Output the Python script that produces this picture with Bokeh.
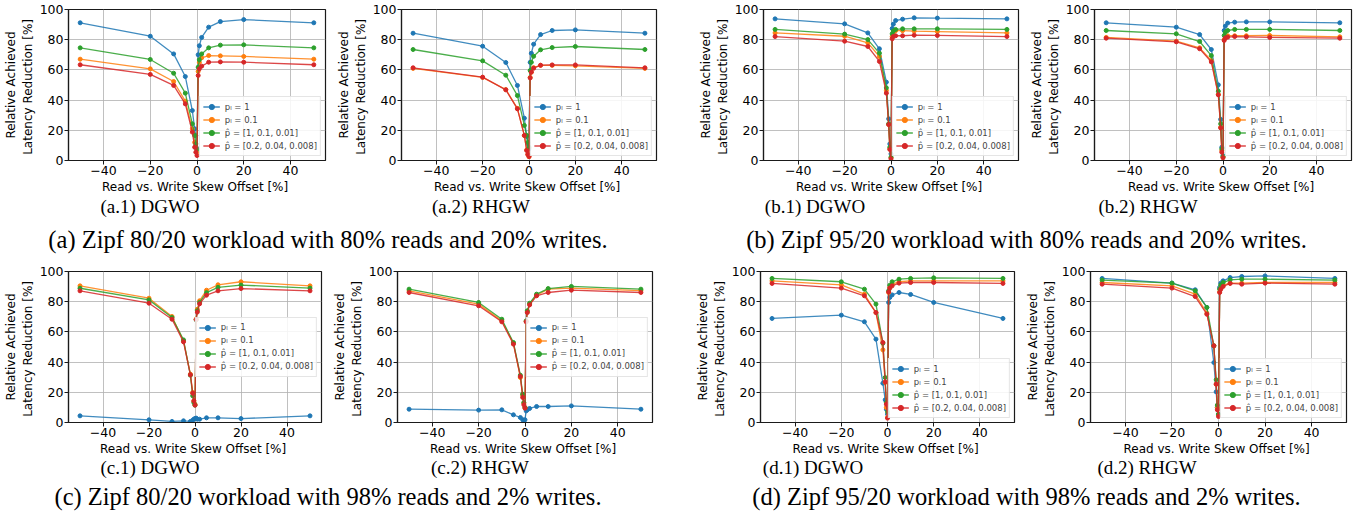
from bokeh.plotting import figure
from bokeh.models import FixedTicker, Legend, LegendItem, Div, Spacer, Range1d
from bokeh.layouts import row, column
from bokeh.embed import file_html
from bokeh.resources import INLINE

offsets = [-50, -20, -10, -5, -2, -1, -0.5, 0, 0.5, 1, 2, 5, 10, 20, 50]
labels = ["p\u2097 = 1", "p\u2097 = 0.1", "p\u0302 = [1, 0.1, 0.01]", "p\u0302 = [0.2, 0.04, 0.008]"]
colors = ["#1f77b4", "#ff7f0e", "#2ca02c", "#d62728"]
x_lim = (-55, 55)
y_lim = (0, 100)
x_ticks = [-40, -20, 0, 20, 40]
x_tick_labels = ["\u221240", "\u221220", "0", "20", "40"]
y_ticks = [0, 20, 40, 60, 80, 100]

# (a.1) DGWO
a1_p1 = [91.2, 82.3, 70.6, 55.6, 33.1, 21.0, 16.5, 8.0, 70.0, 76.0, 81.5, 88.3, 92.0, 93.3, 91.2]
a1_p01 = [67.1, 60.7, 52.3, 39.3, 21.0, 12.0, 8.8, 5.5, 59.0, 65.0, 68.0, 69.5, 69.3, 68.9, 67.1]
a1_h1 = [74.6, 66.9, 57.8, 44.6, 24.3, 16.6, 11.0, 7.3, 61.8, 66.7, 70.6, 74.6, 76.4, 76.6, 74.6]
a1_h2 = [63.4, 57.0, 49.7, 37.5, 18.8, 8.8, 5.5, 3.3, 56.3, 60.7, 62.5, 65.1, 65.3, 65.1, 63.4]
# (a.2) RHGW
a2_p1 = [84.3, 75.7, 64.9, 49.7, 28.0, 15.9, 11.0, 7.7, 65.0, 71.0, 77.0, 83.4, 86.1, 86.5, 84.3]
a2_p01 = [61.0, 55.0, 47.0, 34.5, 16.5, 7.0, 4.0, 2.5, 55.0, 58.5, 61.5, 63.0, 63.0, 62.7, 61.0]
a2_h1 = [73.5, 66.0, 56.5, 43.0, 23.2, 16.6, 12.0, 8.8, 59.6, 65.0, 69.0, 73.3, 74.8, 75.5, 73.5]
a2_h2 = [61.4, 55.2, 46.8, 34.2, 16.6, 6.6, 4.0, 2.6, 54.7, 58.5, 61.1, 63.1, 63.3, 63.3, 61.4]
# (b.1) DGWO
b1_p1 = [93.8, 90.5, 84.5, 74.0, 51.9, 27.6, 11.0, 4.4, 87.4, 90.3, 92.7, 93.6, 94.5, 94.3, 93.8]
b1_p01 = [84.5, 82.3, 77.9, 68.9, 46.4, 23.8, 7.7, 1.8, 82.0, 85.0, 86.0, 86.0, 85.7, 85.4, 84.5]
b1_h1 = [86.8, 83.7, 80.1, 71.1, 48.1, 24.3, 8.8, 2.2, 83.9, 85.7, 86.8, 87.2, 87.2, 87.2, 86.8]
b1_h2 = [82.1, 79.0, 75.5, 65.6, 44.6, 23.8, 7.3, 1.1, 80.6, 82.1, 82.6, 82.6, 83.0, 82.8, 82.1]
# (b.2) RHGW
b2_p1 = [91.2, 88.3, 83.4, 73.5, 50.1, 27.2, 8.8, 3.3, 86.1, 89.0, 91.0, 91.6, 91.8, 91.8, 91.2]
b2_p01 = [81.5, 79.0, 74.6, 66.2, 43.7, 22.0, 6.6, 2.2, 80.1, 82.1, 82.6, 82.6, 82.6, 82.8, 81.9]
b2_h1 = [86.1, 83.9, 78.8, 69.5, 45.9, 24.3, 7.7, 2.6, 82.8, 85.0, 86.1, 86.8, 86.8, 86.8, 86.1]
b2_h2 = [81.0, 78.6, 74.0, 65.3, 43.5, 21.6, 5.5, 1.8, 79.5, 81.2, 81.7, 82.1, 81.9, 81.5, 81.0]
# (c.1) DGWO
c1_p1 = [4.4, 1.8, 0.7, 1.1, 0.7, 1.5, 2.2, 2.6, 2.9, 2.2, 2.2, 3.1, 3.1, 2.6, 4.4]
c1_p01 = [90.5, 82.3, 70.2, 54.0, 32.0, 19.9, 14.3, 12.1, 68.5, 75.0, 80.6, 87.6, 91.2, 93.2, 90.5]
c1_h1 = [88.9, 81.2, 69.5, 54.7, 31.3, 17.7, 13.2, 11.5, 68.0, 74.0, 79.5, 86.0, 89.5, 91.0, 89.0]
c1_h2 = [87.2, 79.0, 68.4, 53.4, 31.6, 19.4, 14.3, 11.5, 68.2, 73.1, 78.6, 84.3, 87.2, 88.7, 87.2]
# (c.2) RHGW
c2_p1 = [8.8, 8.2, 8.4, 5.1, 3.3, 1.8, 1.5, 1.8, 7.7, 8.4, 9.3, 10.6, 10.6, 11.0, 8.8]
c2_p01 = [87.2, 78.4, 67.3, 52.5, 29.8, 18.1, 12.8, 9.9, 66.9, 73.3, 78.4, 84.3, 88.3, 89.0, 87.4]
c2_h1 = [88.3, 79.5, 68.4, 53.0, 31.3, 18.8, 13.2, 9.9, 67.3, 74.0, 79.0, 85.0, 88.7, 90.1, 88.3]
c2_h2 = [86.1, 77.3, 66.7, 51.9, 30.5, 16.6, 11.7, 9.5, 66.7, 72.8, 77.9, 83.9, 86.1, 87.6, 86.1]
# (d.1) DGWO
d1_p1 = [68.9, 71.1, 66.7, 55.2, 26.0, 15.0, 8.8, 5.5, 79.5, 82.8, 84.5, 86.1, 84.8, 79.5, 68.9]
d1_p01 = [93.8, 91.2, 85.0, 72.8, 48.1, 26.5, 9.9, 3.3, 86.1, 89.4, 91.6, 93.2, 93.8, 93.8, 93.8]
d1_h1 = [95.4, 93.2, 88.3, 78.4, 52.5, 29.8, 13.2, 7.1, 87.2, 90.9, 93.2, 94.9, 95.4, 95.8, 95.4]
d1_h2 = [92.1, 89.0, 83.9, 72.8, 53.0, 26.9, 12.1, 2.9, 86.5, 89.0, 90.5, 92.3, 92.7, 92.7, 92.1]
# (d.2) RHGW
d2_p1 = [95.4, 92.3, 87.9, 76.2, 39.7, 20.3, 9.9, 5.5, 89.4, 92.3, 93.8, 96.0, 96.7, 97.1, 95.4]
d2_p01 = [92.7, 90.5, 85.0, 72.4, 50.8, 25.4, 9.9, 4.9, 86.5, 89.4, 90.9, 92.3, 92.3, 92.7, 92.7]
d2_h1 = [94.3, 92.3, 87.2, 76.2, 50.8, 28.3, 11.5, 5.5, 88.3, 91.0, 92.7, 94.5, 94.9, 94.9, 94.3]
d2_h2 = [91.6, 89.0, 83.4, 71.7, 50.8, 25.4, 8.4, 4.0, 86.1, 88.3, 90.1, 92.1, 91.6, 92.3, 91.6]

sub_captions = ["(a.1) DGWO", "(a.2) RHGW", "(b.1) DGWO", "(b.2) RHGW",
                "(c.1) DGWO", "(c.2) RHGW", "(d.1) DGWO", "(d.2) RHGW"]
group_captions = ["(a) Zipf 80/20 workload with 80% reads and 20% writes.",
                  "(b) Zipf 95/20 workload with 80% reads and 20% writes.",
                  "(c) Zipf 80/20 workload with 98% reads and 2% writes.",
                  "(d) Zipf 95/20 workload with 98% reads and 2% writes."]

FONT = "DejaVu Sans"
FRAME = "#1a1a1a"


def panel(series, width, height, mbl, mbr, mbt, mbb, loc):
    p = figure(width=width, height=height, x_range=Range1d(*x_lim), y_range=Range1d(*y_lim),
               output_backend="svg", toolbar_location=None,
               min_border_left=mbl, min_border_right=mbr, min_border_top=mbt, min_border_bottom=mbb)
    p.background_fill_color = "white"
    p.border_fill_color = "white"
    p.outline_line_color = FRAME
    p.outline_line_width = 1.2
    p.outline_line_alpha = 1.0
    p.grid.grid_line_color = "#b0b0b0"
    p.grid.grid_line_width = 1
    p.grid.grid_line_alpha = 0.8
    items = []
    for ys, c, lab in zip(series, colors, labels):
        r1 = p.line(offsets, ys, line_color=c, line_width=1.3, line_alpha=0.85)
        r2 = p.scatter(offsets, ys, marker="circle", size=4, fill_color=c, line_color=c)
        items.append(LegendItem(label=lab, renderers=[r1, r2]))
    leg = Legend(items=items, location=loc, margin=4, padding=3, spacing=0,
                 label_height=13, glyph_height=13, glyph_width=17, label_standoff=5,
                 label_text_font=FONT, label_text_font_size="8.5px",
                 label_text_baseline="middle",
                 border_line_color="#cccccc", border_line_width=1,
                 background_fill_alpha=0.85)
    p.add_layout(leg)
    xa = p.xaxis[0]
    ya = p.yaxis[0]
    xa.ticker = FixedTicker(ticks=x_ticks)
    xa.major_label_overrides = {t: s for t, s in zip(x_ticks, x_tick_labels)}
    ya.ticker = FixedTicker(ticks=y_ticks)
    for ax in (xa, ya):
        ax.major_tick_out = 4
        ax.major_tick_in = 0
        ax.minor_tick_out = 0
        ax.minor_tick_in = 0
        ax.axis_line_color = FRAME
        ax.axis_line_width = 1.2
        ax.major_tick_line_color = FRAME
        ax.major_label_text_font = FONT
        ax.major_label_text_font_size = "12.5px"
        ax.major_label_text_color = "black"
        ax.major_label_standoff = 1
        ax.axis_label_text_font = FONT
        ax.axis_label_text_font_size = "12px"
        ax.axis_label_text_font_style = "normal"
        ax.axis_label_text_color = "black"
        ax.axis_label_standoff = 2
    xa.axis_label = "Read vs. Write Skew Offset  [%]"
    ya.axis_label = "Relative Achieved\nLatency Reduction  [%]"
    return p


def cap(text, width, height, size, lh, pad_top=0):
    html = ('<div style="width:%dpx;text-align:center;font-family:\'Liberation Serif\',\'Times New Roman\',serif;'
            'font-size:%gpx;line-height:%dpx;padding-top:%dpx;white-space:nowrap;color:black;">%s</div>'
            % (width, size, lh, pad_top, text))
    return Div(text=html, width=width, height=height, margin=0, styles={"padding": "0", "margin": "0"})


SUB = 19
GRP = 24.5
H1 = 196   # frame 9..160
H2 = 200   # frame 271..422 (page)
a1 = panel([a1_p1, a1_p01, a1_h1, a1_h2], 333, H1, 67, 8, 9, 36, "bottom_right")
a2 = panel([a2_p1, a2_p01, a2_h1, a2_h2], 331, H1, 64, 8, 9, 36, "bottom_right")
b1 = panel([b1_p1, b1_p01, b1_h1, b1_h2], 331, H1, 64, 8, 9, 36, "bottom_right")
b2 = panel([b2_p1, b2_p01, b2_h1, b2_h2], 333, H1, 63, 8, 9, 36, "bottom_right")

c1 = panel([c1_p1, c1_p01, c1_h1, c1_h2], 329, H2, 61, 8, 13, 36, "center_right")
c2 = panel([c2_p1, c2_p01, c2_h1, c2_h2], 331, H2, 62, 8, 13, 36, "center_right")
d1 = panel([d1_p1, d1_p01, d1_h1, d1_h2], 330, H2, 64, 8, 13, 36, "bottom_right")
d2 = panel([d2_p1, d2_p01, d2_h1, d2_h2], 332, H2, 65, 8, 13, 36, "bottom_right")

row1 = row(a1, a2, Spacer(width=31, height=H1), b1, b2)
sub1 = row(cap(sub_captions[0], 300, 22, SUB, 22), cap(sub_captions[1], 362, 22, SUB, 22),
           cap(sub_captions[2], 306, 22, SUB, 22), cap(sub_captions[3], 360, 22, SUB, 22))
grp1 = row(cap(group_captions[0], 656, 40, GRP, 26, 9), Spacer(width=54, height=40),
           cap(group_captions[1], 633, 40, GRP, 26, 9))
row2 = row(c1, c2, Spacer(width=32, height=H2), d1, d2)
sub2 = row(cap(sub_captions[4], 300, 20, SUB, 20), cap(sub_captions[5], 360, 20, SUB, 20),
           cap(sub_captions[6], 306, 20, SUB, 20), cap(sub_captions[7], 362, 20, SUB, 20))
grp2 = row(cap(group_captions[2], 656, 38, GRP, 26, 6), Spacer(width=54, height=38),
           cap(group_captions[3], 633, 38, GRP, 26, 6))

layout = column(row1, sub1, grp1, row2, sub2, grp2)

open("out.html", "w").write(file_html(layout, INLINE))
